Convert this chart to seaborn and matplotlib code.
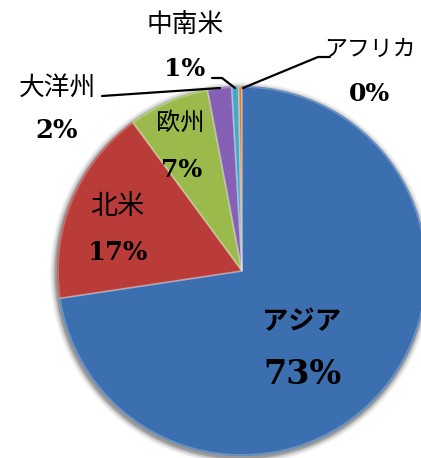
import matplotlib
matplotlib.use("Agg")
import matplotlib.pyplot as plt
import seaborn as sns
from matplotlib.patches import Circle, Wedge

# Share by region (percent)
regions = ["アジア", "北米", "欧州", "大洋州", "中南米", "アフリカ"]
shares = [72.7, 17.3, 7.1, 2.1, 0.6, 0.3]
colors = ["#3b6fb0", "#b93c39", "#9abb4c", "#8560b4", "#45a8c8", "#e07c32"]

sns.set_theme(style="white")
plt.rcParams["font.family"] = ["Noto Sans CJK JP", "DejaVu Sans"]

W, H = 421, 458
fig = plt.figure(figsize=(W / 100, H / 100), dpi=100)
ax = fig.add_axes([0, 0, 1, 1])

cx, cy, r = 242, H - 271, 185

# soft drop shadow behind the pie
for k, a in zip(range(8, 0, -1), [0.02, 0.03, 0.04, 0.05, 0.06, 0.08, 0.11, 0.16]):
    ax.add_patch(Circle((cx - 1, cy - 2), r + k * 0.8, color="#202020", alpha=a, lw=0, zorder=1))

wedges, _ = ax.pie(
    shares, colors=colors, startangle=90, counterclock=False,
    center=(cx, cy), radius=r, frame=True,
    wedgeprops=dict(edgecolor="none", linewidth=0, zorder=2),
)
ax.set_xlim(0, W)
ax.set_ylim(0, H)
ax.set_aspect("equal")
ax.axis("off")

# bevel: light line along each slice's edges
for w in wedges:
    ax.add_patch(Wedge((cx, cy), r - 1, w.theta1, w.theta2, facecolor="none",
                       edgecolor="white", alpha=0.25, lw=1.2, zorder=3))

def Y(y):
    return H - y

def pct(v):
    return f"{round(v):d}%"

jp = dict(family=["Noto Sans CJK JP", "DejaVu Sans"], ha="center", va="center", color="black")
num = dict(family="DejaVu Serif", fontweight="bold", ha="center", va="center", color="black")

# inside labels
ax.text(302, Y(322), regions[0], fontsize=19, fontweight="bold", **jp)
ax.text(302, Y(375), pct(shares[0]), fontsize=24, **num)
ax.text(117, Y(207), regions[1], fontsize=19.5, **jp)
ax.text(118, Y(253), pct(shares[1]), fontsize=18.5, **num)
ax.text(180, Y(123), regions[2], fontsize=17.5, **jp)
ax.text(182, Y(170), pct(shares[2]), fontsize=18, **num)

# outside labels with leader lines
ax.text(57, Y(88), regions[3], fontsize=18.5, **jp)
ax.text(57, Y(131), pct(shares[3]), fontsize=18.5, **num)
ax.plot([102, 220], [Y(96), Y(88)], color="black", lw=1.6, zorder=5)

ax.text(185, Y(25), regions[4], fontsize=18.5, **jp)
ax.text(185, Y(69), pct(shares[4]), fontsize=18, **num)
ax.plot([212, 222, 235], [Y(78), Y(78), Y(88)], color="black", lw=1.6, zorder=5)

ax.text(370, Y(49), regions[5], fontsize=16.5, **jp)
ax.text(370, Y(94), pct(shares[5]), fontsize=18, **num)
ax.plot([330, 318, 243], [Y(57), Y(57), Y(88)], color="black", lw=1.6, zorder=5)

fig.savefig("out.png", dpi=100)
